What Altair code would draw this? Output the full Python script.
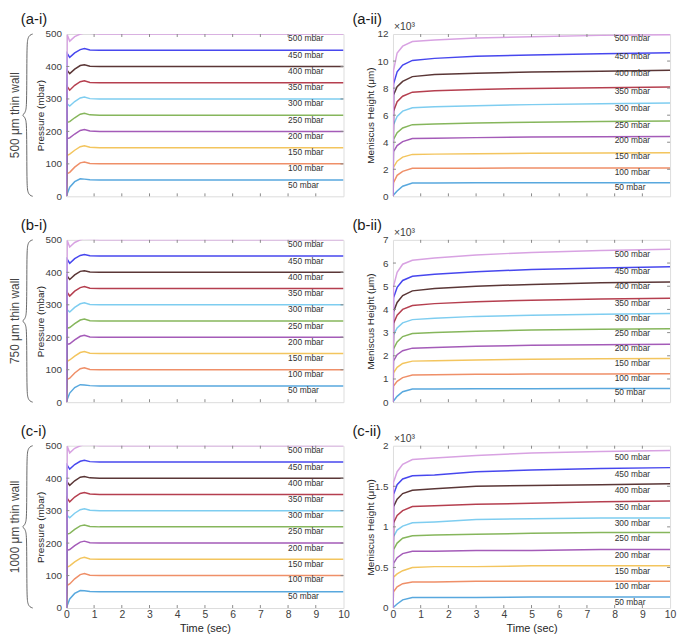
import altair as alt
import pandas as pd

NARROW = "Liberation Sans Narrow, Arial Narrow, sans-serif"
SANS = "Liberation Sans, Arial, sans-serif"

series = ["50 mbar", "100 mbar", "150 mbar", "200 mbar", "250 mbar",
          "300 mbar", "350 mbar", "400 mbar", "450 mbar", "500 mbar"]
colors = ["#58A8DE", "#EF8F68", "#F3C55E", "#A45BB8", "#86B65C",
          "#7ECDF0", "#B53F4F", "#5A3636", "#4747EE", "#D8A2E2"]

# ---- pressure panels (a-i, b-i, c-i) ----
p_time = [0, 0.03, 0.12, 0.3, 0.5, 0.65, 0.85, 1.2, 10]
p_vals = [
    [0, 8, 28, 45, 54, 53, 51, 50, 50],
    [0, 70, 74, 90, 103, 106, 101, 100, 100],
    [0, 126, 130, 142, 153, 156, 151, 150, 150],
    [0, 178, 180, 192, 203, 206, 201, 200, 200],
    [0, 228, 230, 242, 253, 256, 251, 250, 250],
    [0, 285, 278, 292, 303, 306, 301, 300, 300],
    [0, 338, 327, 342, 353, 356, 351, 350, 350],
    [0, 388, 378, 392, 403, 405, 401, 400, 400],
    [0, 440, 428, 442, 452, 455, 451, 450, 450],
    [0, 498, 478, 492, 500, 503, 502, 500, 500],
]
p_label_y = [36, 88, 136, 186, 236, 286, 336, 386, 435, 487]
p_ticks = [0, 100, 200, 300, 400, 500]

# ---- meniscus height panels (x10^3 um) ----
m_time = [0, 0.02, 0.15, 0.35, 0.7, 1.5, 3, 5, 7.5, 10]
a_vals = [
    [0, 0.1, 0.4, 0.75, 0.99, 0.99, 1.0, 1.0, 1.0, 1.0],
    [0, 1.0, 1.55, 1.85, 2.07, 2.07, 2.08, 2.09, 2.1, 2.1],
    [0, 2.15, 2.6, 2.9, 3.1, 3.12, 3.15, 3.18, 3.2, 3.22],
    [0, 3.3, 3.75, 4.05, 4.27, 4.3, 4.34, 4.38, 4.41, 4.43],
    [0, 4.2, 4.7, 5.05, 5.3, 5.35, 5.42, 5.48, 5.53, 5.57],
    [0, 5.3, 5.9, 6.3, 6.55, 6.62, 6.7, 6.78, 6.84, 6.9],
    [0, 6.3, 7.0, 7.4, 7.7, 7.8, 7.9, 7.98, 8.03, 8.08],
    [0, 7.5, 8.1, 8.5, 8.85, 9.0, 9.1, 9.2, 9.25, 9.32],
    [0, 8.3, 9.2, 9.7, 10.05, 10.2, 10.35, 10.45, 10.55, 10.62],
    [0, 9.3, 10.6, 11.1, 11.45, 11.55, 11.7, 11.8, 11.9, 11.95],
]
a_label_y = [0.72, 1.83, 2.95, 4.13, 5.25, 6.56, 7.77, 9.08, 10.37, 11.68]
a_ticks = [0, 2, 4, 6, 8, 10, 12]

b_vals = [
    [0, 0.05, 0.25, 0.45, 0.57, 0.57, 0.58, 0.58, 0.59, 0.59],
    [0, 0.7, 0.9, 1.06, 1.17, 1.18, 1.2, 1.21, 1.22, 1.23],
    [0, 1.27, 1.5, 1.67, 1.77, 1.79, 1.82, 1.85, 1.87, 1.88],
    [0, 1.78, 2.05, 2.22, 2.33, 2.36, 2.41, 2.45, 2.48, 2.5],
    [0, 2.3, 2.6, 2.83, 2.96, 3.0, 3.06, 3.11, 3.15, 3.17],
    [0, 2.9, 3.2, 3.42, 3.56, 3.62, 3.7, 3.75, 3.79, 3.82],
    [0, 3.4, 3.75, 4.0, 4.17, 4.25, 4.33, 4.4, 4.45, 4.48],
    [0, 3.9, 4.3, 4.6, 4.8, 4.9, 5.0, 5.08, 5.15, 5.18],
    [0, 4.5, 4.95, 5.25, 5.43, 5.52, 5.63, 5.72, 5.79, 5.84],
    [0, 5.0, 5.6, 5.95, 6.12, 6.22, 6.35, 6.46, 6.54, 6.6],
]
b_label_y = [0.42, 1.06, 1.7, 2.33, 2.97, 3.64, 4.29, 4.99, 5.66, 6.41]
b_ticks = [0, 1, 2, 3, 4, 5, 6, 7]

c_vals = [
    [0, 0.01, 0.05, 0.1, 0.13, 0.13, 0.13, 0.135, 0.135, 0.135],
    [0, 0.2, 0.26, 0.3, 0.32, 0.32, 0.33, 0.33, 0.33, 0.33],
    [0, 0.38, 0.42, 0.46, 0.5, 0.51, 0.51, 0.52, 0.52, 0.52],
    [0, 0.55, 0.62, 0.67, 0.7, 0.7, 0.71, 0.71, 0.72, 0.72],
    [0, 0.72, 0.8, 0.86, 0.89, 0.9, 0.91, 0.92, 0.93, 0.93],
    [0, 0.88, 0.96, 1.01, 1.05, 1.06, 1.09, 1.1, 1.11, 1.11],
    [0, 1.05, 1.14, 1.2, 1.25, 1.26, 1.28, 1.29, 1.31, 1.32],
    [0, 1.25, 1.34, 1.41, 1.45, 1.47, 1.5, 1.51, 1.52, 1.53],
    [0, 1.4, 1.52, 1.59, 1.63, 1.64, 1.68, 1.70, 1.72, 1.73],
    [0, 1.55, 1.68, 1.77, 1.83, 1.85, 1.88, 1.91, 1.93, 1.94],
]
c_label_y = [0.07, 0.27, 0.46, 0.65, 0.86, 1.05, 1.25, 1.45, 1.65, 1.86]
c_ticks = [0, 0.5, 1, 1.5, 2]

x_ticks = [0, 1, 2, 3, 4, 5, 6, 7, 8, 9, 10]
label_t = 8.0

# brace decoration shape: pixel offset from plot left, fraction of plot height
brace_dx = [-34, -37, -39, -40, -40, -41, -43, -45, -43, -41, -40, -40, -39, -37, -34]
brace_f = [0, 0.006, 0.025, 0.07, 0.43, 0.475, 0.495, 0.5, 0.505, 0.525, 0.57, 0.93, 0.975, 0.994, 1.0]

W, H = 280, 164


def panel(times, vals, ymax, yticks, label_y, tag, tag_x, ytitle, title_x,
          wall=None, bottom=False, sci=False):
    xscale = alt.Scale(domain=[0, 10], nice=False, zero=False)
    yscale = alt.Scale(domain=[0, ymax], nice=False, zero=False)
    rows = []
    for s, v in zip(series, vals):
        for t, y in zip(times, v):
            rows.append({"t": t, "v": y, "s": s})
    df = pd.DataFrame(rows)
    if bottom:
        xaxis = alt.Axis(values=x_ticks, format="d", ticks=False, domain=False, grid=False,
                         labelFlush=False, labelOverlap=False, labelPadding=2,
                         labelFont=NARROW, labelFontSize=10.5, labelColor="#404040",
                         title="Time (sec)", titleFont=NARROW, titleFontSize=11,
                         titleFontWeight="normal", titleColor="#262626",
                         titleY=21, titleBaseline="middle")
    else:
        xaxis = None
    yaxis = alt.Axis(values=yticks, format=".4~g", ticks=False, domain=False, grid=False,
                     labelPadding=5, labelFont=NARROW, labelFontSize=10,
                     labelColor="#404040", title=ytitle, titleFont=NARROW,
                     titleFontSize=10, titleFontWeight="normal", titleColor="#262626",
                     titleX=title_x, titleY=H / 2, titleAngle=270, titleAlign="center",
                     titleBaseline="middle")
    X = alt.X("t:Q", scale=xscale, axis=xaxis)
    Y = alt.Y("v:Q", scale=yscale, axis=yaxis)
    lines = alt.Chart(df).mark_line(strokeWidth=1.5, clip=True).encode(
        x=X, y=Y,
        color=alt.Color("s:N", scale=alt.Scale(domain=series, range=colors), legend=None),
    )
    ldf = pd.DataFrame({"t": [label_t] * len(series), "v": label_y, "s": series})
    labels = alt.Chart(ldf).mark_text(align="left", baseline="middle", font=NARROW,
                                      fontSize=8.5, color="#333333").encode(
        x=X, y=Y, text="s:N",
    )
    xt = pd.DataFrame({"t": x_ticks[1:-1]})
    yt = pd.DataFrame({"v": yticks[1:-1]})
    tick_col = "#8a8a8a"
    xt_top = alt.Chart(xt).mark_rule(color=tick_col).encode(
        x=X, y=alt.value(0), y2=alt.value(3))
    xt_bot = alt.Chart(xt).mark_rule(color=tick_col).encode(
        x=X, y=alt.value(H), y2=alt.value(H - 3))
    yt_l = alt.Chart(yt).mark_rule(color=tick_col).encode(
        y=Y, x=alt.value(0), x2=alt.value(3))
    yt_r = alt.Chart(yt).mark_rule(color=tick_col).encode(
        y=Y, x=alt.value(W), x2=alt.value(W - 3))
    tag_layer = alt.Chart(pd.DataFrame({"txt": [tag]})).mark_text(
        align="left", baseline="middle", font=SANS, fontSize=15, color="#1a1a1a").encode(
        x=alt.value(tag_x), y=alt.value(-15), text="txt:N")
    layers = [lines, labels, xt_top, xt_bot, yt_l, yt_r, tag_layer]
    if sci:
        layers.append(alt.Chart(pd.DataFrame({"txt": ["×10³"]})).mark_text(
            align="left", baseline="middle", font=NARROW, fontSize=10.5, color="#404040").encode(
            x=alt.value(1), y=alt.value(-7), text="txt:N"))
    if wall is not None:
        bdf = pd.DataFrame({
            "t": [d * 10 / W for d in brace_dx],
            "v": [ymax * (1 - f) for f in brace_f],
            "o": list(range(len(brace_dx))),
        })
        layers.append(alt.Chart(bdf).mark_line(color="#666666", strokeWidth=1,
                                               interpolate="basis", clip=False).encode(
            x=X, y=Y, order="o:Q"))
        layers.append(alt.Chart(pd.DataFrame({"txt": [wall]})).mark_text(
            align="center", baseline="middle", font=SANS, fontSize=12, angle=270,
            color="#444444").encode(x=alt.value(-52), y=alt.value(H / 2), text="txt:N"))
    return alt.layer(*layers).properties(width=W, height=H)


a_i = panel(p_time, p_vals, 500, p_ticks, p_label_y, "(a-i)", -46, "Pressure (mbar)", -26.5,
            wall="500 μm thin wall")
a_ii = panel(m_time, a_vals, 12, a_ticks, a_label_y, "(a-ii)", -41, "Meniscus Height (μm)", -23,
             sci=True)
b_i = panel(p_time, p_vals, 500, p_ticks, p_label_y, "(b-i)", -46, "Pressure (mbar)", -26.5,
            wall="750 μm thin wall")
b_ii = panel(m_time, b_vals, 7, b_ticks, b_label_y, "(b-ii)", -41, "Meniscus Height (μm)", -23,
             sci=True)
c_i = panel(p_time, p_vals, 500, p_ticks, p_label_y, "(c-i)", -46, "Pressure (mbar)", -26.5,
            wall="1000 μm thin wall", bottom=True)
c_ii = panel(m_time, c_vals, 2, c_ticks, c_label_y, "(c-ii)", -41, "Meniscus Height (μm)", -23,
             bottom=True, sci=True)

chart = alt.concat(a_i, a_ii, b_i, b_ii, c_i, c_ii, columns=2,
                   spacing={"row": 44, "column": 50}, bounds="flush").properties(
    padding=0
).configure_view(stroke="#8a8a8a", strokeWidth=1).configure(font=SANS)

chart.save("out.html", embed_options={"renderer": "svg", "actions": False})
